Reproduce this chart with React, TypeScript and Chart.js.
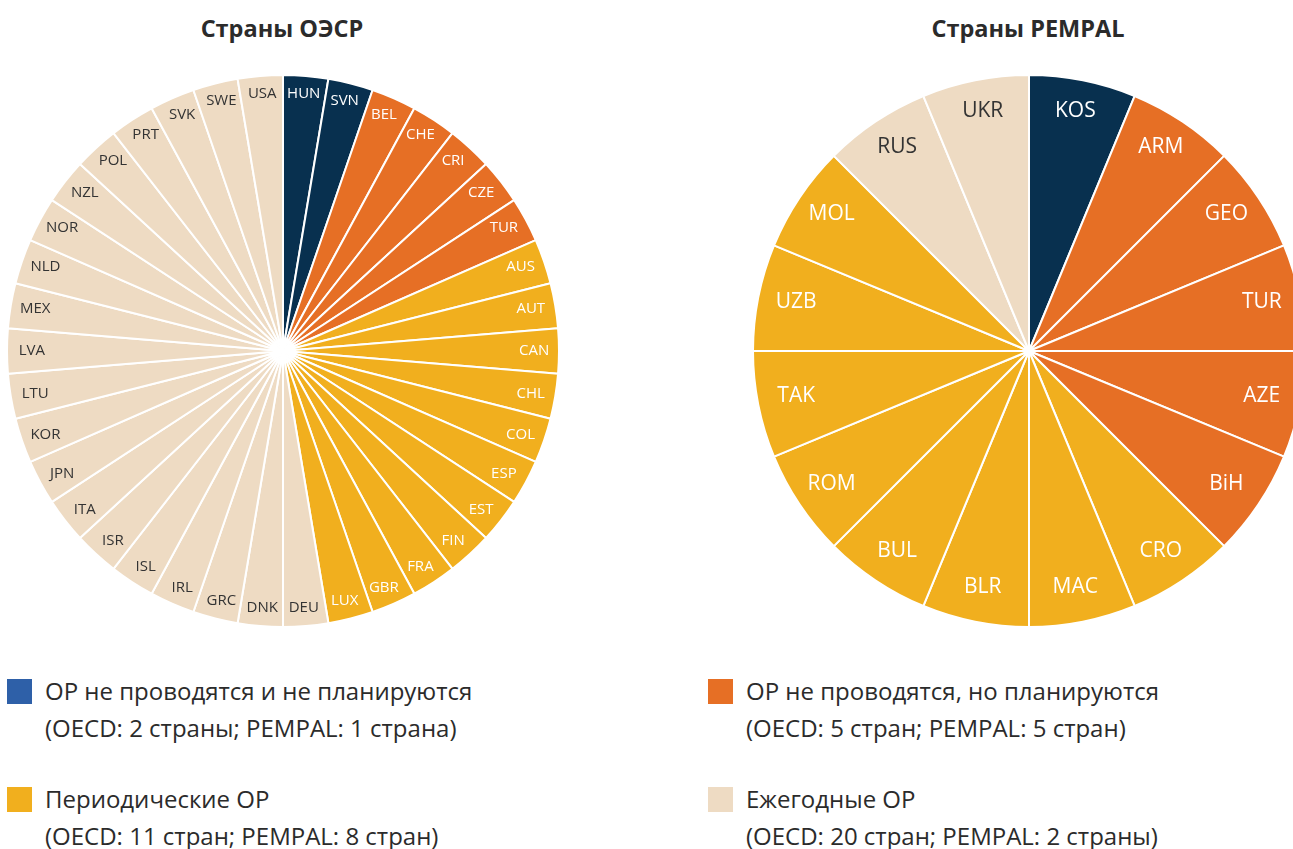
import React, { useEffect, useRef } from "react";
import { Chart, registerables } from "chart.js";

Chart.register(...registerables);

const NAVY = "#08304f";
const ORANGE = "#e66f25";
const GOLD = "#f1af1e";
const BEIGE = "#eedbc3";
const LEGEND_BLUE = "#2e60a8";

const oecdCountries = [
  "HUN", "SVN",
  "BEL", "CHE", "CRI", "CZE", "TUR",
  "AUS", "AUT", "CAN", "CHL", "COL", "ESP", "EST", "FIN", "FRA", "GBR", "LUX",
  "DEU", "DNK", "GRC", "IRL", "ISL", "ISR", "ITA", "JPN", "KOR", "LTU", "LVA", "MEX", "NLD", "NOR", "NZL", "POL", "PRT", "SVK", "SWE", "USA",
];
const oecdGroups = [
  "none", "none",
  "planned", "planned", "planned", "planned", "planned",
  "periodic", "periodic", "periodic", "periodic", "periodic", "periodic", "periodic", "periodic", "periodic", "periodic", "periodic",
  "annual", "annual", "annual", "annual", "annual", "annual", "annual", "annual", "annual", "annual", "annual", "annual", "annual", "annual", "annual", "annual", "annual", "annual", "annual", "annual",
];
const oecdValues = oecdCountries.map(() => 1);

const pempalCountries = [
  "KOS",
  "ARM", "GEO", "TUR", "AZE", "BiH",
  "CRO", "MAC", "BLR", "BUL", "ROM", "TAK", "UZB", "MOL",
  "RUS", "UKR",
];
const pempalGroups = [
  "none",
  "planned", "planned", "planned", "planned", "planned",
  "periodic", "periodic", "periodic", "periodic", "periodic", "periodic", "periodic", "periodic",
  "annual", "annual",
];
const pempalValues = pempalCountries.map(() => 1);

const groupColor: Record<string, string> = {
  none: NAVY,
  planned: ORANGE,
  periodic: GOLD,
  annual: BEIGE,
};
const groupText: Record<string, string> = {
  none: "#ffffff",
  planned: "#ffffff",
  periodic: "#ffffff",
  annual: "#333333",
};

const legendItems = [
  { color: LEGEND_BLUE, line1: "ОР не проводятся и не планируются", line2: "(OECD: 2 страны; PEMPAL: 1 страна)", x: 7, y: 676 },
  { color: ORANGE, line1: "ОР не проводятся, но планируются", line2: "(OECD: 5 стран; PEMPAL: 5 стран)", x: 708, y: 676 },
  { color: GOLD, line1: "Периодические ОР", line2: "(OECD: 11 стран; PEMPAL: 8 стран)", x: 7, y: 784 },
  { color: BEIGE, line1: "Ежегодные ОР", line2: "(OECD: 20 стран; PEMPAL: 2 страны)", x: 708, y: 784 },
];

function PieChart(props: {
  labels: string[];
  values: number[];
  groups: string[];
  fontSize: number;
  rx: number;
  ry: number;
  dy: number;
  left: number;
  top: number;
  size: number;
}) {
  const ref = useRef<HTMLCanvasElement | null>(null);
  useEffect(() => {
    if (!ref.current) return;
    const labelPlugin = {
      id: "sliceLabels",
      afterDatasetsDraw(chart: any) {
        const ctx = chart.ctx;
        const meta = chart.getDatasetMeta(0);
        ctx.save();
        ctx.font = `${props.fontSize}px "Open Sans"`;
        ctx.textAlign = "center";
        ctx.textBaseline = "middle";
        meta.data.forEach((arc: any, i: number) => {
          const p = arc.getProps(["x", "y", "startAngle", "endAngle", "outerRadius"], true);
          const mid = (p.startAngle + p.endAngle) / 2;
          const x = p.x + Math.cos(mid) * p.outerRadius * props.rx;
          const y = p.y + Math.sin(mid) * p.outerRadius * props.ry + props.dy;
          ctx.fillStyle = groupText[props.groups[i]];
          ctx.fillText(props.labels[i], x, y);
        });
        ctx.restore();
      },
    };
    const chart = new Chart(ref.current, {
      type: "pie",
      data: {
        labels: props.labels,
        datasets: [
          {
            data: props.values,
            backgroundColor: props.groups.map((g) => groupColor[g]),
            borderColor: "#ffffff",
            borderWidth: 2,
          },
        ],
      },
      options: {
        responsive: false,
        animation: false,
        devicePixelRatio: 1,
        layout: { padding: 0 },
        plugins: {
          legend: { display: false },
          tooltip: { enabled: false },
          title: { display: false },
        },
      },
      plugins: [labelPlugin],
    });
    return () => chart.destroy();
  }, []);
  return (
    <canvas
      ref={ref}
      width={props.size}
      height={props.size}
      style={{ position: "absolute", left: props.left, top: props.top, width: props.size, height: props.size }}
    />
  );
}

export default function App() {
  const font = '"Open Sans", sans-serif';
  return (
    <div
      style={{
        position: "absolute",
        left: 0,
        top: 0,
        width: 1293,
        height: 849,
        overflow: "hidden",
        background: "#ffffff",
        fontFamily: font,
        color: "#2b2b2b",
      }}
    >
      <div style={{ position: "absolute", left: 82, top: 12, width: 400, textAlign: "center", fontWeight: 700, fontSize: 23.5, lineHeight: "32px" }}>
        Страны ОЭСР
      </div>
      <div style={{ position: "absolute", left: 828, top: 12, width: 400, textAlign: "center", fontWeight: 700, fontSize: 23.5, lineHeight: "32px" }}>
        Страны PEMPAL
      </div>
      <PieChart
        labels={oecdCountries}
        values={oecdValues}
        groups={oecdGroups}
        fontSize={15}
        rx={0.91}
        ry={0.935}
        dy={0}
        left={6}
        top={74}
        size={554}
      />
      <PieChart
        labels={pempalCountries}
        values={pempalValues}
        groups={pempalGroups}
        fontSize={21}
        rx={0.86}
        ry={0.88}
        dy={-2}
        left={752}
        top={74}
        size={554}
      />
      {legendItems.map((it, i) => (
        <div key={i} style={{ position: "absolute", left: it.x, top: it.y }}>
          <div style={{ position: "absolute", left: 0, top: 3, width: 25, height: 25, background: it.color }} />
          <div style={{ position: "absolute", left: 38, top: 0, whiteSpace: "nowrap", fontSize: 24, lineHeight: "37px", marginTop: -4 }}>
            <div>{it.line1}</div>
            <div>{it.line2}</div>
          </div>
        </div>
      ))}
    </div>
  );
}
